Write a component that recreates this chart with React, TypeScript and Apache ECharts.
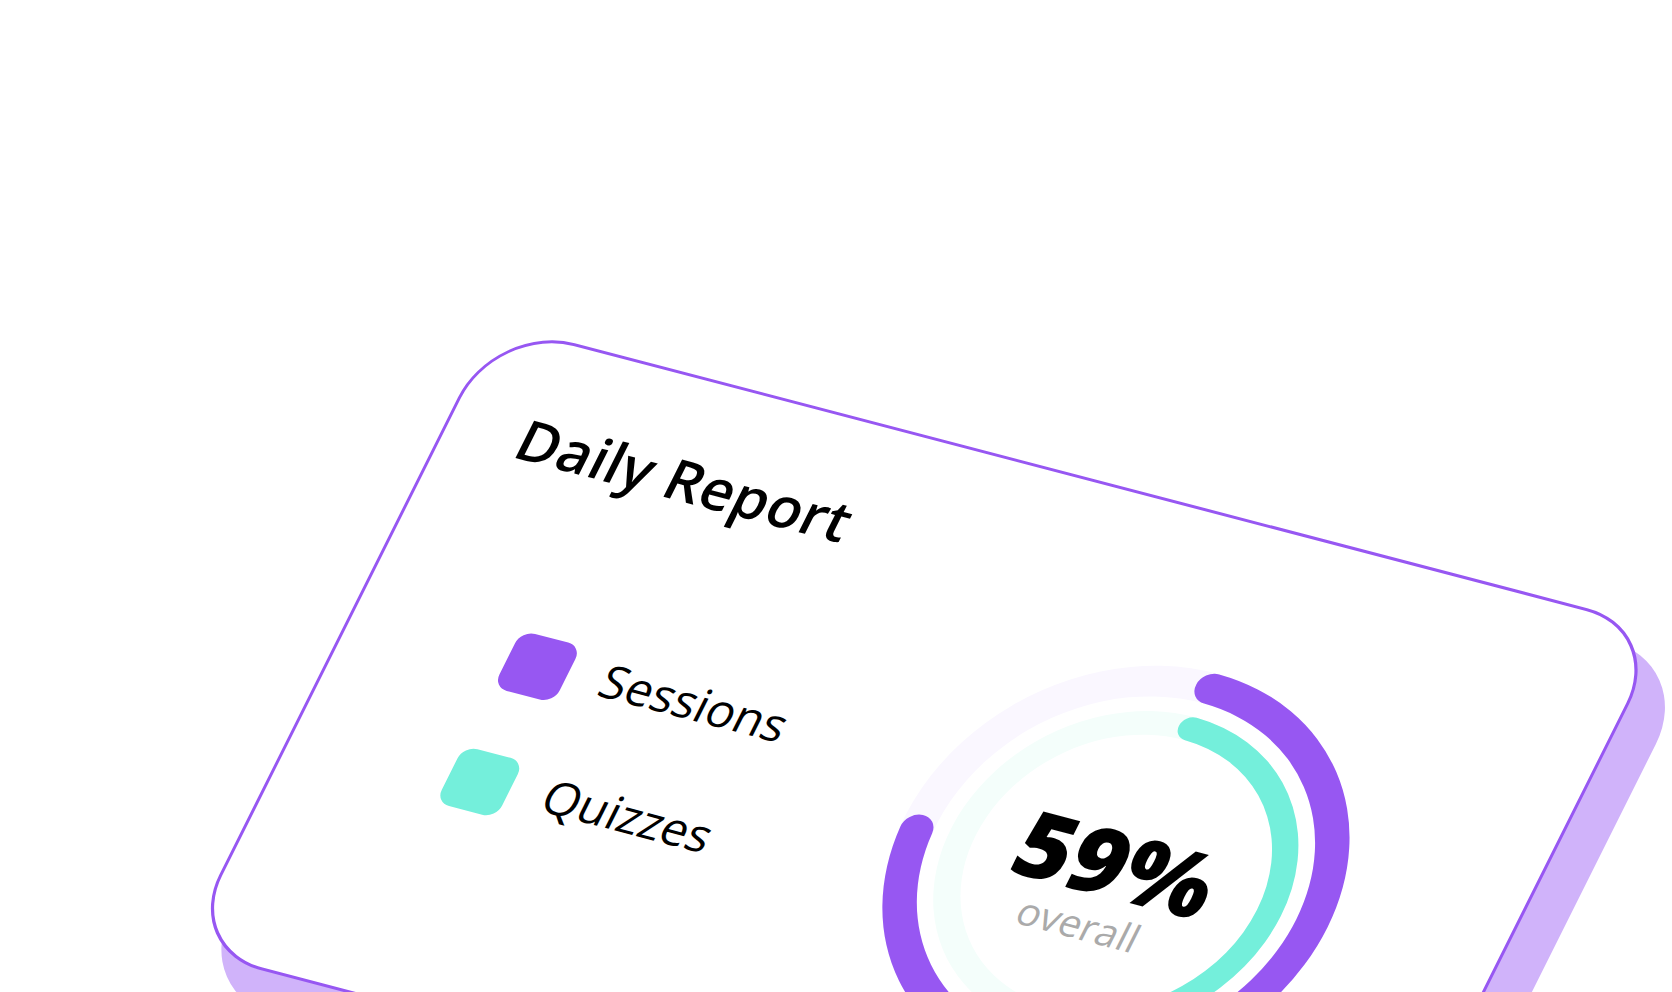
import React, { useEffect, useRef } from "react";
import * as echarts from "echarts";

// ---- data ----
const title = "Daily Report";
const categories = ["Sessions", "Quizzes"];
const values = [74, 44];
const trackValue = 100;
const overallLabel = "59%";
const overallCaption = "overall";
const seriesColors = ["#9757F2", "#74EFDB"];
const trackColors = ["#FAF7FF", "#F4FEFB"];

// ---- card geometry (untransformed) ----
const W = 1200;
const H = 680;
const P = 20;
const DIV_W = W + 2 * P + 50;
const DIV_H = H + 2 * P + 50;

// affine mapping of the card onto the page
const TL = [496.2, 324.2];
const AX = [0.97358, 0.25475];
const CY = [-0.45912, 0.91824];

export default function App() {
  const ref = useRef<HTMLDivElement>(null);

  useEffect(() => {
    if (!ref.current) return;
    const chart = echarts.init(ref.current, null, { renderer: "svg" });
    const cx = P + 812;
    const cy = P + 372;
    const ringRadii = [
      [185, 217],
      [145, 169.5],
    ];
    const font = '"Open Sans", "Noto Sans", sans-serif';

    const mkText = (
      text: string,
      x: number,
      y: number,
      size: number,
      weight: number,
      fill: string,
      align: string
    ) => ({
      type: "text",
      z: 10,
      style: {
        text,
        x,
        y,
        font: `${weight} ${size}px ${font}`,
        fill,
        align,
        verticalAlign: "middle",
        textAlign: align,
        textVerticalAlign: "middle",
      },
    });

    // polar 0/1: Sessions track/progress, polar 2/3: Quizzes track/progress
    const polarIdx = [0, 1, 2, 3];
    const ringOf = (p: number) => Math.floor(p / 2);
    const sq = 62;

    chart.setOption({
      animation: false,
      polar: polarIdx.map((p) => ({ center: [cx, cy], radius: ringRadii[ringOf(p)] })),
      angleAxis: polarIdx.map((p) => ({
        polarIndex: p,
        type: "value",
        min: 0,
        max: 100,
        startAngle: 89,
        clockwise: true,
        show: false,
      })),
      radiusAxis: polarIdx.map((p) => ({
        polarIndex: p,
        type: "category",
        data: [categories[ringOf(p)]],
        show: false,
      })),
      series: polarIdx.map((p) => {
        const i = ringOf(p);
        const isTrack = p % 2 === 0;
        return {
          type: "bar",
          name: isTrack ? categories[i] + " track" : categories[i],
          coordinateSystem: "polar",
          polarIndex: p,
          data: [isTrack ? trackValue : values[i]],
          barWidth: "100%",
          roundCap: !isTrack,
          silent: isTrack,
          z: isTrack ? 2 : 3,
          itemStyle: { color: isTrack ? trackColors[i] : seriesColors[i] },
        };
      }),
      graphic: [
        {
          type: "rect",
          z: 0,
          z2: 0,
          shape: { x: P + 26, y: P + 24, width: 1218, height: 698, r: 88 },
          style: { fill: "#D0B3FA" },
        },
        {
          type: "rect",
          z: 0,
          z2: 1,
          shape: { x: P, y: P, width: W, height: H, r: 80 },
          style: { fill: "#FFFFFF", stroke: "#9757F2", lineWidth: 3 },
        },
        mkText(title, P + 73, P + 102, 57, 600, "#000000", "left"),
        {
          type: "rect",
          z: 10,
          shape: { x: P + 193 - sq / 2, y: P + 319.5 - sq / 2, width: sq, height: sq, r: 14 },
          style: { fill: seriesColors[0] },
        },
        {
          type: "rect",
          z: 10,
          shape: { x: P + 193 - sq / 2, y: P + 445 - sq / 2, width: sq, height: sq, r: 14 },
          style: { fill: seriesColors[1] },
        },
        mkText(categories[0], P + 258, P + 314, 47, 400, "#000000", "left"),
        mkText(categories[1], P + 258, P + 439.5, 47, 400, "#000000", "left"),
        mkText(overallLabel, P + 809, P + 362, 93, 800, "#000000", "center"),
        mkText(overallCaption, P + 801.5, P + 431, 39, 500, "#AAAAAA", "center"),
      ],
    });

    return () => chart.dispose();
  }, []);

  const e = TL[0] - P * AX[0] - P * CY[0];
  const f = TL[1] - P * AX[1] - P * CY[1];

  return (
    <div
      style={{
        position: "fixed",
        left: 0,
        top: 0,
        width: 1672,
        height: 992,
        overflow: "hidden",
        background: "#FFFFFF",
      }}
    >
      <div
        ref={ref}
        style={{
          position: "absolute",
          left: 0,
          top: 0,
          width: DIV_W,
          height: DIV_H,
          transformOrigin: "0 0",
          transform: `matrix(${AX[0]}, ${AX[1]}, ${CY[0]}, ${CY[1]}, ${e}, ${f})`,
        }}
      />
    </div>
  );
}
